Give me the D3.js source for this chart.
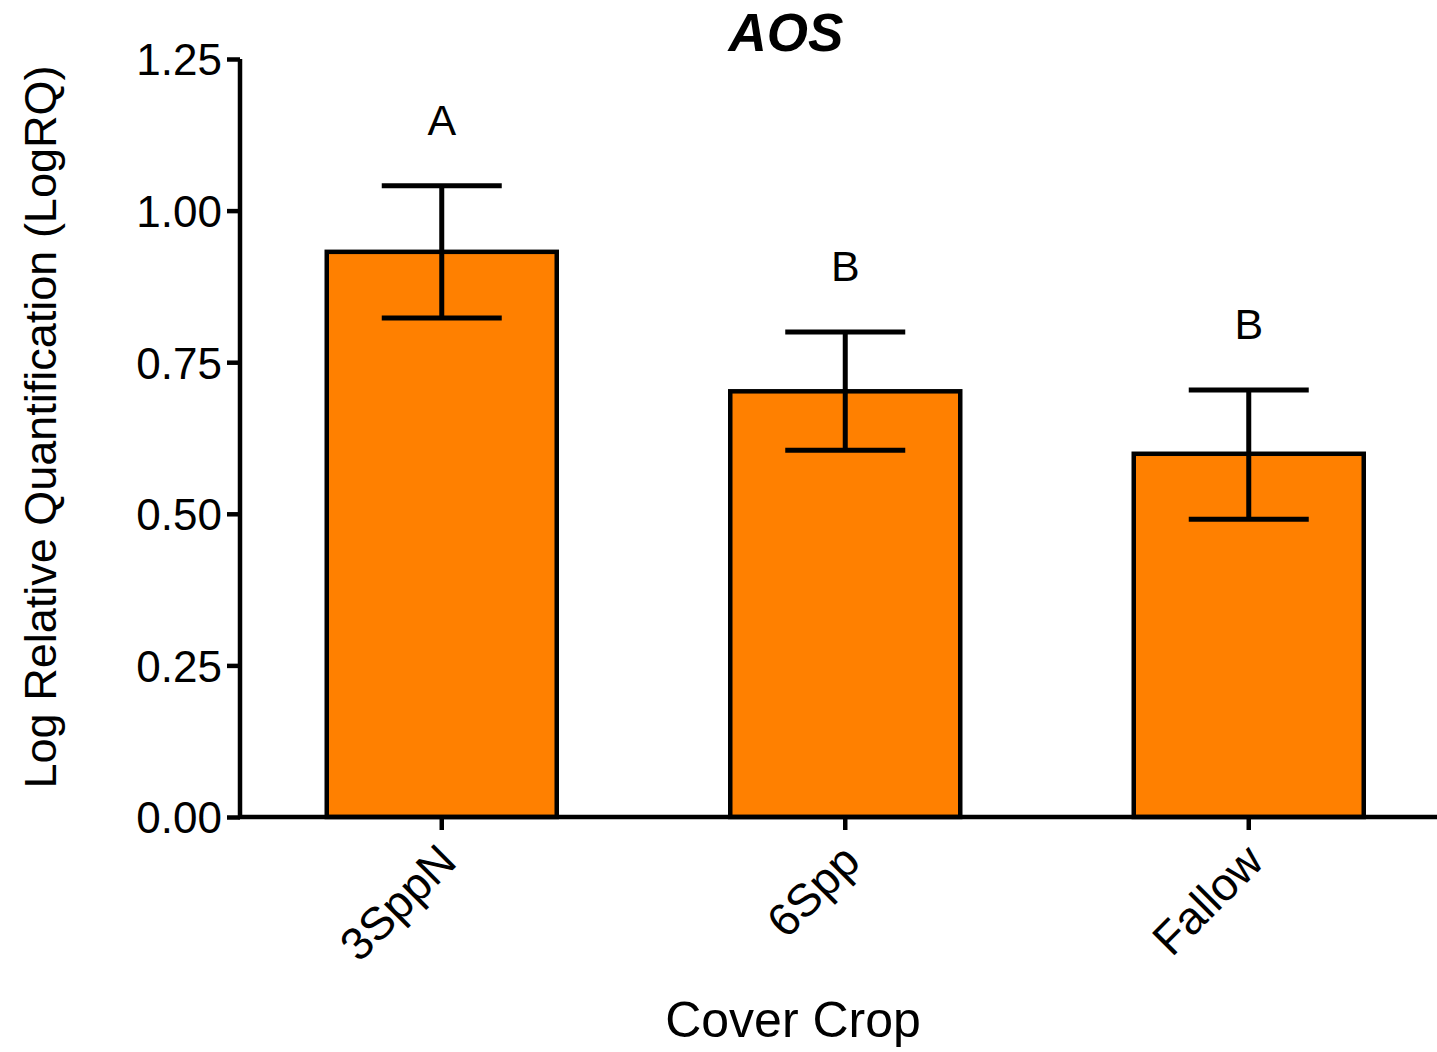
<!DOCTYPE html>
<html>
<head>
<meta charset="utf-8">
<script src="https://cdn.jsdelivr.net/npm/d3@7"></script>
<style>
  body { margin: 0; background: #fff; }
  text { font-family: "Liberation Sans", Arial, sans-serif; fill: #000; }
</style>
</head>
<body>
<script>
// data
var categories = ["3SppN", "6Spp", "Fallow"];
var means = [0.932, 0.702, 0.599];
var upper = [1.041, 0.800, 0.704];
var lower = [0.823, 0.605, 0.491];
var letters = ["A", "B", "B"];
var yTicks = [0, 0.25, 0.5, 0.75, 1.0, 1.25];

var width = 1437, height = 1052;

var svg = d3.select("body").append("svg")
    .attr("width", width)
    .attr("height", height);

var plotLeft = 240, plotTop = 59, plotBottom = 817;

var x = d3.scaleBand()
    .domain(categories)
    .range([plotLeft, plotLeft + 3 * 403.5])
    .paddingInner(0.43)
    .paddingOuter(0.215);

var y = d3.scaleLinear()
    .domain([0, 1.25])
    .range([plotBottom, plotTop]);

// bars
svg.selectAll(".bar")
    .data(categories)
    .enter()
    .append("rect")
    .attr("class", "bar")
    .attr("x", function(d) { return x(d); })
    .attr("y", function(d, i) { return y(means[i]); })
    .attr("width", x.bandwidth())
    .attr("height", function(d, i) { return plotBottom - y(means[i]); })
    .attr("fill", "#ff8000")
    .attr("stroke", "#000")
    .attr("stroke-width", 4.5);

// error bars
var capHalf = 60;
var err = svg.selectAll(".err")
    .data(categories)
    .enter()
    .append("g")
    .attr("class", "err")
    .attr("stroke", "#000")
    .attr("stroke-width", 5);

err.append("line")
    .attr("x1", function(d) { return x(d) + x.bandwidth() / 2; })
    .attr("x2", function(d) { return x(d) + x.bandwidth() / 2; })
    .attr("y1", function(d, i) { return y(upper[i]); })
    .attr("y2", function(d, i) { return y(lower[i]); });

err.append("line")
    .attr("x1", function(d) { return x(d) + x.bandwidth() / 2 - capHalf; })
    .attr("x2", function(d) { return x(d) + x.bandwidth() / 2 + capHalf; })
    .attr("y1", function(d, i) { return y(upper[i]); })
    .attr("y2", function(d, i) { return y(upper[i]); });

err.append("line")
    .attr("x1", function(d) { return x(d) + x.bandwidth() / 2 - capHalf; })
    .attr("x2", function(d) { return x(d) + x.bandwidth() / 2 + capHalf; })
    .attr("y1", function(d, i) { return y(lower[i]); })
    .attr("y2", function(d, i) { return y(lower[i]); });

// significance letters
svg.selectAll(".letter")
    .data(categories)
    .enter()
    .append("text")
    .attr("class", "letter")
    .attr("x", function(d) { return x(d) + x.bandwidth() / 2; })
    .attr("y", function(d, i) { return y(upper[i]) - 51; })
    .attr("text-anchor", "middle")
    .style("font-size", "43px")
    .text(function(d, i) { return letters[i]; });

// y axis
var yAxis = svg.append("g")
    .attr("transform", "translate(" + plotLeft + ",0)")
    .call(d3.axisLeft(y).tickValues(yTicks).tickFormat(d3.format(".2f")).tickSize(13).tickPadding(5));
yAxis.select(".domain").attr("stroke-width", 4.5).attr("d", "M0," + plotTop + "V" + (plotBottom + 2));
yAxis.selectAll(".tick line").attr("stroke-width", 4.5);
yAxis.selectAll(".tick text").style("font-size", "44px").attr("dy", "0.36em");

// x axis
var xAxis = svg.append("g")
    .attr("transform", "translate(0," + plotBottom + ")")
    .call(d3.axisBottom(x).tickSize(13).tickSizeOuter(0));
xAxis.select(".domain").attr("stroke-width", 4.5).attr("d", "M" + (plotLeft - 2) + ",0H" + width);
xAxis.selectAll(".tick line").attr("stroke-width", 4.5);
xAxis.selectAll(".tick text")
    .style("font-size", "46px")
    .attr("text-anchor", "end")
    .attr("dy", null)
    .attr("y", 0)
    .attr("transform", "translate(17,47) rotate(-45)");

// titles
svg.append("text")
    .attr("x", 786)
    .attr("y", 51)
    .attr("text-anchor", "middle")
    .style("font-size", "53px")
    .style("font-weight", "bold")
    .style("font-style", "italic")
    .text("AOS");

svg.append("text")
    .attr("x", 793)
    .attr("y", 1037)
    .attr("text-anchor", "middle")
    .style("font-size", "50px")
    .text("Cover Crop");

svg.append("text")
    .attr("transform", "translate(56," + 427 + ") rotate(-90)")
    .attr("text-anchor", "middle")
    .style("font-size", "45px")
    .text("Log Relative Quantification (LogRQ)");
</script>
</body>
</html>
